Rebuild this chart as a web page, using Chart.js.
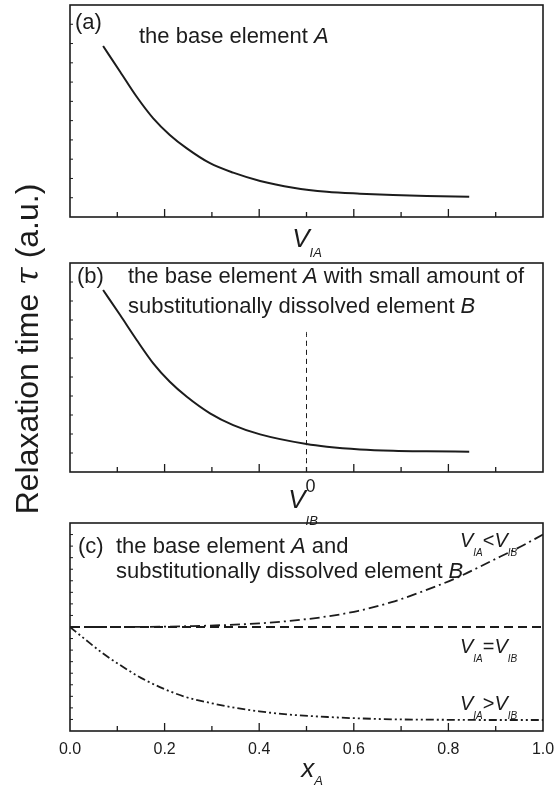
<!DOCTYPE html>
<html>
<head>
<meta charset="utf-8">
<script src="https://cdn.jsdelivr.net/npm/chart.js@4.4.1/dist/chart.umd.min.js"></script>
<style>
  html, body { margin: 0; padding: 0; background: #fff; }
  #wrap { position: relative; width: 554px; height: 787px; }
  #wrap canvas { position: absolute; left: 0; top: 0; }
</style>
</head>
<body>
<div id="wrap">
  <canvas id="chartA" width="554" height="787"></canvas>
  <canvas id="chartB" width="554" height="787"></canvas>
  <canvas id="chartC" width="554" height="787"></canvas>
</div>
<script>
// panel (a): base element A, tau vs V_IA
const xA = [0.07, 0.106, 0.141, 0.176, 0.211, 0.247, 0.296, 0.345, 0.402, 0.472, 0.543, 0.613, 0.683, 0.754, 0.844];
const tauA = [8.87, 7.54, 6.24, 5.12, 4.26, 3.56, 2.79, 2.30, 1.87, 1.52, 1.31, 1.21, 1.14, 1.09, 1.05];

// panel (b): A with a little B, tau vs V_IB
const xB = [0.07, 0.106, 0.141, 0.176, 0.211, 0.247, 0.296, 0.345, 0.402, 0.50, 0.543, 0.613, 0.683, 0.754, 0.844];
const tauB = [9.58, 8.26, 6.95, 5.72, 4.75, 3.96, 3.09, 2.47, 1.98, 1.47, 1.33, 1.19, 1.12, 1.09, 1.07];
const xMarkB = [0.5, 0.5];
const tauMarkB = [0, 7.4];

// panel (c): tau vs x_A
const xLess = [0, 0.1, 0.2, 0.26, 0.33, 0.40, 0.47, 0.54, 0.61, 0.68, 0.75, 0.82, 0.89, 0.95, 1.0];
const tauLess = [9.0, 9.0, 9.03, 9.08, 9.17, 9.31, 9.55, 9.89, 10.4, 11.15, 12.15, 13.3, 14.7, 15.9, 17.0];
const xEqual = [0, 1];
const tauEqual = [9.0, 9.0];
const xGreater = [0, 0.03, 0.07, 0.11, 0.15, 0.19, 0.24, 0.30, 0.35, 0.40, 0.47, 0.55, 0.62, 0.70, 0.80, 0.90, 1.0];
const tauGreater = [9.0, 8.0, 6.7, 5.6, 4.6, 3.8, 3.0, 2.4, 2.0, 1.7, 1.4, 1.2, 1.08, 1.0, 0.97, 0.95, 0.95];

// ticks
const xMajor = [0.2, 0.4, 0.6, 0.8];
const xMinor = [0.1, 0.3, 0.5, 0.7, 0.9];
const xLabelsC = ['0.0', '0.2', '0.4', '0.6', '0.8', '1.0'];
const yTicksAB = [1, 2, 3, 4, 5, 6, 7, 8, 9, 10];
const yTicksC = [1, 2, 3, 4, 5, 6, 7, 8, 9, 10, 11, 12, 13, 14, 15, 16, 17];

const FONT = '"Liberation Sans", Arial, sans-serif';
const INK = '#1c1c1c';

function pts(xs, ys) {
  return xs.map((x, i) => ({ x: x, y: ys[i] }));
}

// parts: [text, size, italic, dy, sameX, family]
function rich(ctx, x, y, parts, align) {
  let starts = [];
  let cur = 0, prevStart = 0;
  parts.forEach(p => {
    ctx.font = (p[2] ? 'italic ' : '') + p[1] + 'px ' + (p[5] || FONT);
    const pw = ctx.measureText(p[0]).width;
    let s = p[4] ? prevStart : cur;
    starts.push(s);
    prevStart = s;
    cur = Math.max(cur, s + pw);
  });
  let x0 = align === 'center' ? x - cur / 2 : x;
  ctx.textBaseline = 'alphabetic';
  ctx.textAlign = 'left';
  parts.forEach((p, i) => {
    ctx.font = (p[2] ? 'italic ' : '') + p[1] + 'px ' + (p[5] || FONT);
    ctx.fillText(p[0], x0 + starts[i], y + (p[3] || 0));
  });
}

const framePlugin = {
  id: 'frame',
  afterDatasetsDraw(chart, args, opts) {
    const { ctx, chartArea: a, scales: { x, y } } = chart;
    ctx.save();
    ctx.strokeStyle = INK;
    ctx.lineWidth = 1.3;
    ctx.beginPath();
    xMajor.forEach(v => { const p = x.getPixelForValue(v); ctx.moveTo(p, a.bottom); ctx.lineTo(p, a.bottom - 8); });
    xMinor.forEach(v => { const p = x.getPixelForValue(v); ctx.moveTo(p, a.bottom); ctx.lineTo(p, a.bottom - 5); });
    ctx.stroke();
    ctx.lineWidth = 1;
    ctx.beginPath();
    opts.yTicks.forEach(v => { const p = y.getPixelForValue(v); ctx.moveTo(a.left, p); ctx.lineTo(a.left + 3, p); });
    ctx.stroke();
    ctx.lineWidth = 1.6;
    ctx.strokeRect(a.left, a.top, a.right - a.left, a.bottom - a.top);
    ctx.fillStyle = INK;
    (opts.texts || []).forEach(t => rich(ctx, t.x, t.y, t.parts, t.align));
    if (opts.yTitle) {
      ctx.translate(27, 349);
      ctx.rotate(-Math.PI / 2);
      rich(ctx, 0, 11, opts.yTitle, 'center');
    }
    ctx.restore();
  }
};

function makePanel(id, datasets, yMax, top, bottom, frame, xTicks) {
  return new Chart(document.getElementById(id), {
    type: 'line',
    data: { datasets: datasets },
    plugins: [framePlugin],
    options: {
      responsive: false,
      animation: false,
      events: [],
      layout: { padding: { left: 70, right: 11, top: top, bottom: xTicks ? 787 - bottom - 30 : 787 - bottom } },
      elements: { point: { radius: 0 } },
      plugins: { legend: { display: false }, tooltip: { enabled: false }, frame: frame },
      scales: {
        x: {
          type: 'linear', min: 0, max: 1,
          display: !!xTicks,
          grid: { display: false, drawTicks: false },
          border: { display: false },
          ticks: {
            stepSize: 0.2, padding: 9, color: INK, maxRotation: 0, autoSkip: false,
            font: { family: FONT, size: 16 },
            callback: (v) => xLabelsC[Math.round(v / 0.2)]
          },
          afterFit: (s) => {
            if (!xTicks) return;
            s.height = 30; s.paddingLeft = 0; s.paddingRight = 0;
          }
        },
        y: { type: 'linear', min: 0, max: yMax, display: false }
      }
    }
  });
}

const curve = (data, dash, width) => ({
  data: data, borderColor: INK, borderWidth: width || 2, borderDash: dash || [],
  fill: false, cubicInterpolationMode: 'monotone', pointRadius: 0
});

makePanel('chartA', [curve(pts(xA, tauA))], 11, 5, 217, {
  yTicks: yTicksAB,
  texts: [
    { x: 75, y: 28.5, parts: [['(a)', 22]] },
    { x: 139, y: 43.3, parts: [['the base element ', 22], ['A', 22, true]] },
    { x: 307, y: 247, align: 'center', parts: [['V', 26, true], ['IA', 13, true, 10]] }
  ],
  yTitle: [['Relaxation time ', 32], ['\u03c4', 32, true, 0, false, '"DejaVu Serif", serif'], [' (a.u.)', 32]]
}, false);

makePanel('chartB', [curve(pts(xB, tauB)), curve(pts(xMarkB, tauMarkB), [5, 4], 1)], 11, 263, 472, {
  yTicks: yTicksAB,
  texts: [
    { x: 77, y: 283.3, parts: [['(b)', 22]] },
    { x: 128, y: 283.3, parts: [['the base element ', 22], ['A', 22, true], [' with small amount of', 22]] },
    { x: 128, y: 313.3, parts: [['substitutionally dissolved element ', 22], ['B', 22, true]] },
    { x: 303, y: 508, align: 'center', parts: [['V', 26, true], ['0', 18, false, -16], ['IB', 13, true, 17, true]] }
  ]
}, false);

makePanel('chartC', [
  curve(pts(xLess, tauLess), [10, 4, 2, 4], 1.8),
  curve(pts(xEqual, tauEqual), [9, 5], 1.8),
  curve(pts(xGreater, tauGreater), [8, 3, 2, 3, 2, 3], 1.8)
], 18, 523, 731, {
  yTicks: yTicksC,
  texts: [
    { x: 78, y: 553.3, parts: [['(c)', 22]] },
    { x: 116, y: 553.3, parts: [['the base element ', 22], ['A', 22, true], [' and', 22]] },
    { x: 116, y: 578.3, parts: [['substitutionally dissolved element ', 22], ['B', 22, true]] },
    { x: 460, y: 547, parts: [['V', 20, true], ['IA', 10, true, 9], ['<', 20], ['V', 20, true], ['IB', 10, true, 9]] },
    { x: 460, y: 653, parts: [['V', 20, true], ['IA', 10, true, 9], ['=', 20], ['V', 20, true], ['IB', 10, true, 9]] },
    { x: 460, y: 710, parts: [['V', 20, true], ['IA', 10, true, 9], ['>', 20], ['V', 20, true], ['IB', 10, true, 9]] },
    { x: 312, y: 777, align: 'center', parts: [['x', 26, true], ['A', 13, true, 8]] }
  ]
}, true);
</script>
</body>
</html>
